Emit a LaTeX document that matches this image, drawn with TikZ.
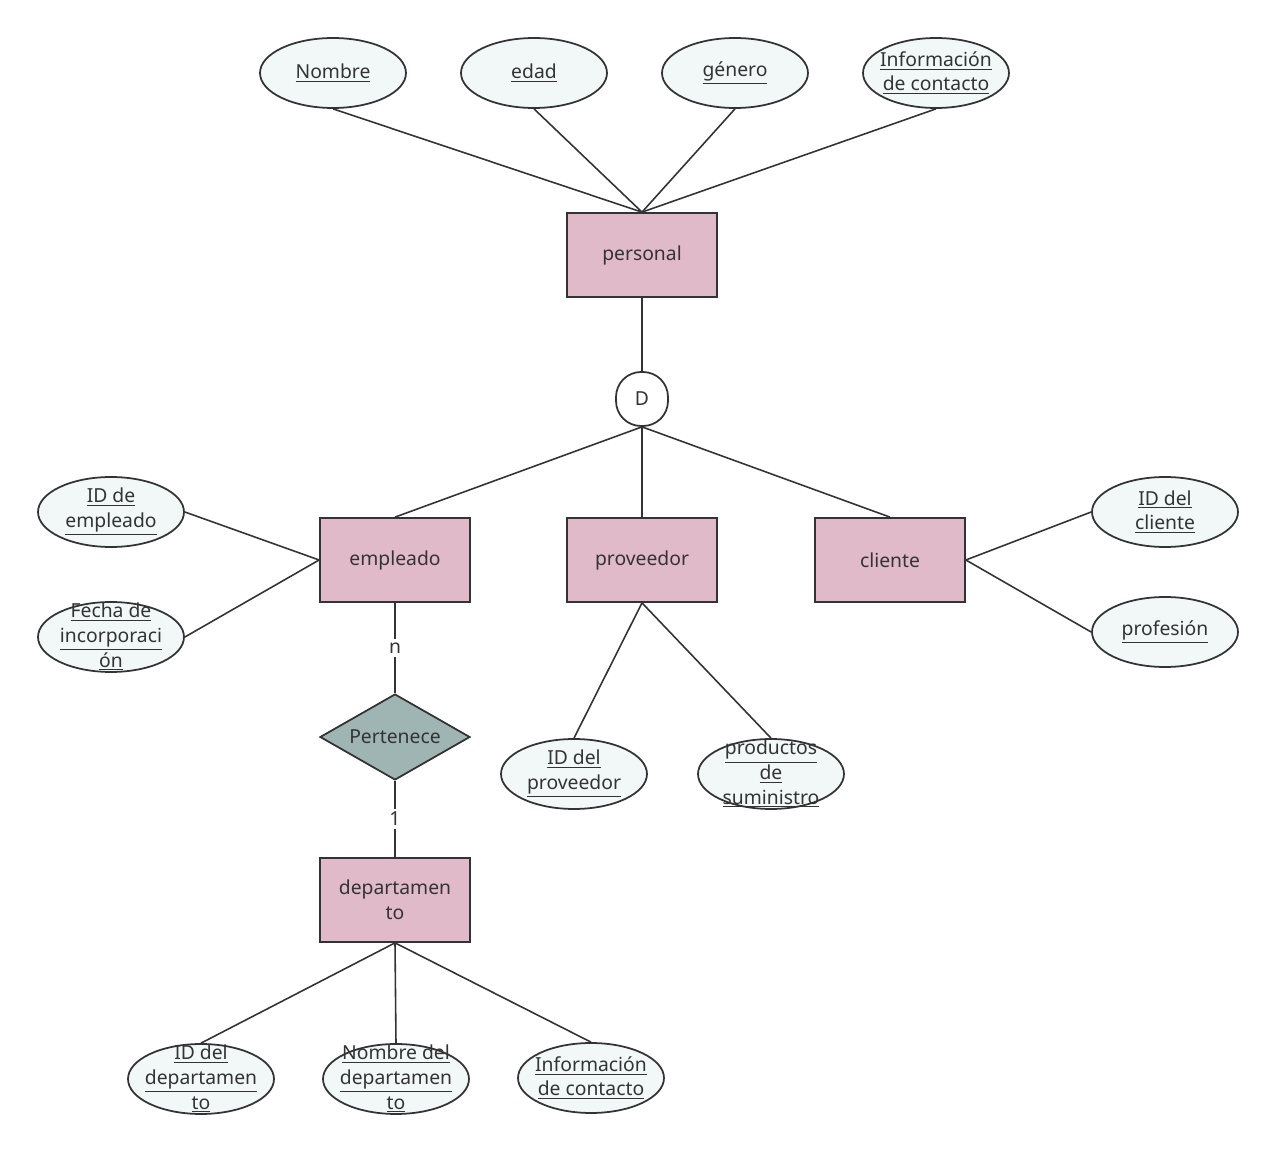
\documentclass[tikz,border=0pt]{standalone}
\usepackage{fontspec}
\setmainfont{Noto Sans}
\usetikzlibrary{shapes.geometric}
\definecolor{ent}{HTML}{E0BAC8}
\definecolor{att}{HTML}{F2F8F8}
\definecolor{rel}{HTML}{9FB5B3}
\definecolor{ln}{HTML}{333333}
\newcommand{\und}[1]{\underline{#1}}
\begin{document}
\begin{tikzpicture}[x=0.02cm,y=-0.02cm,
  every node/.style={font=\fontsize{11}{14}\selectfont, text=ln},
  ent/.style={draw=ln, line width=1pt, fill=ent, minimum width=3cm, minimum height=1.68cm, align=center},
  att/.style={draw=ln, line width=1pt, fill=att, ellipse, minimum width=2.92cm, minimum height=1.4cm, inner sep=0pt,
     label={[align=center, inner sep=0pt]center:#1}},
  rel/.style={draw=ln, line width=1pt, fill=rel, diamond, aspect=1.75, minimum width=3cm, minimum height=1.72cm, inner sep=0pt},
  lk/.style={draw=ln, line width=0.9pt}]
\useasboundingbox (0,0) rectangle (1276,1152);
\node[att={\und{Nombre}}] (nom) at (333,73) {};
\node[att={\und{edad}}] (eda) at (534,73) {};
\node[att={\und{género}}] (gen) at (735,73) {};
\node[att={\und{Información}\\\und{de contacto}}] (inf) at (936,73) {};
\node[ent] (per) at (642,255) {personal};
\node[draw=ln, line width=1pt, fill=white, rounded corners=0.5cm, minimum width=1.04cm, minimum height=1.08cm] (d) at (642,399) {D};
\node[ent] (emp) at (395,560) {empleado};
\node[ent] (pro) at (642,560) {proveedor};
\node[ent] (cli) at (890,560) {cliente};
\node[att={\und{ID de}\\\und{empleado}}] (ide) at (111,512) {};
\node[att={\und{Fecha de}\\\und{incorporaci}\\\und{ón}}] (fec) at (111,637) {};
\node[att={\und{ID del}\\\und{cliente}}] (idc) at (1165,512) {};
\node[att={\und{profesión}}] (prf) at (1165,632) {};
\node[att={\und{ID del}\\\und{proveedor}}] (idp) at (574,774) {};
\node[att={\und{productos}\\\und{de}\\\und{suministro}}] (pds) at (771,774) {};
\node[rel] (pert) at (395,737) {Pertenece};
\node[ent] (dep) at (395,900) {departamen\\to};
\node[att={\und{ID del}\\\und{departamen}\\\und{to}}] (idd) at (201,1079) {};
\node[att={\und{Nombre del}\\\und{departamen}\\\und{to}}] (nod) at (396,1079) {};
\node[att={\und{Información}\\\und{de contacto}}] (ind) at (591,1078) {};
\foreach \a in {nom,eda,gen,inf} \draw[lk] (\a.south) -- (per.north);
\draw[lk] (per) -- (d);
\draw[lk] (d.south) -- (emp.north);
\draw[lk] (d.south) -- (pro.north);
\draw[lk] (d.south) -- (cli.north);
\draw[lk] (ide.east) -- (emp.west);
\draw[lk] (fec.east) -- (emp.west);
\draw[lk] (idc.west) -- (cli.east);
\draw[lk] (prf.west) -- (cli.east);
\draw[lk] (pro.south) -- (idp.north);
\draw[lk] (pro.south) -- (pds.north);
\draw[lk] (emp) -- node[fill=white, inner sep=2pt] {n} (pert);
\draw[lk] (pert) -- node[fill=white, inner sep=2pt] {1} (dep);
\foreach \a in {idd,nod,ind} \draw[lk] (dep.south) -- (\a.north);
\end{tikzpicture}
\end{document}
